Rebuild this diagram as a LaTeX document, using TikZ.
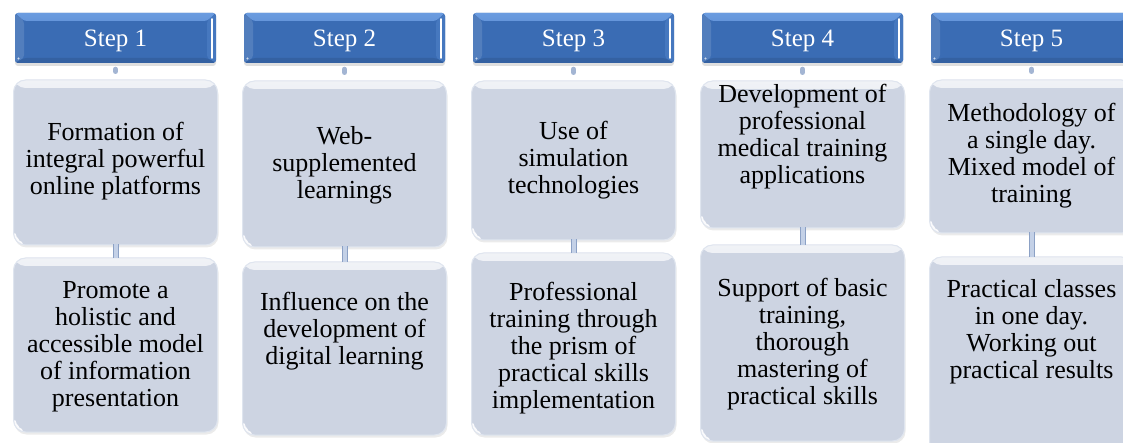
\documentclass[tikz,border=0pt]{standalone}
\usepackage{fontspec}
\setmainfont{Liberation Serif}
\usetikzlibrary{shadows}

\definecolor{hblue}{HTML}{3A6CB4}
\definecolor{htop}{HTML}{6B9CE0}
\definecolor{bfill}{HTML}{CDD4E2}
\definecolor{brim}{HTML}{DFE5EF}
\definecolor{stemline}{HTML}{8CA1C5}
\definecolor{stemfill}{HTML}{C4D1E7}
\definecolor{knobcol}{HTML}{A3B5D3}

\tikzset{
  % blue bevelled step header
  headbox/.style={rectangle, rounded corners=3pt, minimum width=201pt,
    minimum height=50pt, inner sep=0pt, fill=hblue, text=white,
    text depth=0pt, font=\fontsize{25}{27}\selectfont,
    drop shadow={shadow xshift=0pt, shadow yshift=-3pt, opacity=0.25},
    path picture={
      % top bevel
      \shade[top color=htop, bottom color=hblue!85!htop]
        (path picture bounding box.north west) -- (path picture bounding box.north east)
        -- ([shift={(-9pt,-8pt)}]path picture bounding box.north east)
        -- ([shift={(9pt,-8pt)}]path picture bounding box.north west) -- cycle;
      % left bevel
      \fill[hblue!88!white] (path picture bounding box.north west)
        -- ([shift={(9pt,-8pt)}]path picture bounding box.north west)
        -- ([shift={(9pt,5pt)}]path picture bounding box.south west)
        -- (path picture bounding box.south west) -- cycle;
      % right bevel
      \fill[hblue!75!htop] (path picture bounding box.north east)
        -- ([shift={(-9pt,-8pt)}]path picture bounding box.north east)
        -- ([shift={(-9pt,5pt)}]path picture bounding box.south east)
        -- (path picture bounding box.south east) -- cycle;
      % bottom bevel
      \fill[hblue!90!black] (path picture bounding box.south west)
        -- ([shift={(9pt,5pt)}]path picture bounding box.south west)
        -- ([shift={(-9pt,5pt)}]path picture bounding box.south east)
        -- (path picture bounding box.south east) -- cycle;
      % highlight along the right edge
      \draw[white, line width=1.6pt, line cap=round]
        ([shift={(-4pt,-6pt)}]path picture bounding box.north east)
        -- ([shift={(-4pt,5pt)}]path picture bounding box.south east);
      \fill[white!75!hblue] ([shift={(3.5pt,4.5pt)}]path picture bounding box.south west) circle (1.2pt);
    }},
  % light content box
  bodybox/.style={rectangle, rounded corners=12pt, minimum width=204pt,
    inner sep=0pt, fill=bfill, draw=brim, line width=1pt,
    drop shadow={shadow xshift=1pt, shadow yshift=-2.5pt, opacity=0.16},
    path picture={
      \shade[top color=white!70!bfill, bottom color=bfill]
        (path picture bounding box.north west) rectangle
        ([yshift=-8pt]path picture bounding box.north east);
      % glare on the lower left corner
      \fill[white, opacity=0.9] ([xshift=16pt]path picture bounding box.south west)
        .. controls ([shift={(7pt,4pt)}]path picture bounding box.south west)
        and ([shift={(3pt,9pt)}]path picture bounding box.south west)
        .. ([shift={(0.5pt,19pt)}]path picture bounding box.south west)
        -- (path picture bounding box.south west) -- cycle;
    }},
  bodytext/.style={align=center, inner sep=0pt, text=black,
    font=\fontsize{26}{27}\selectfont},
  knob/.style={draw=knobcol, line width=5pt, line cap=round},
  stem/.style={draw=stemline, line width=1pt, double=stemfill, double distance=4pt}
}

\begin{document}
\begin{tikzpicture}[x=1pt, y=-1pt]
\useasboundingbox (0,0) rectangle (1123,443);
\clip (0,0) rectangle (1123,443);

% step headers
\node[headbox] (h1) at (115.5,38) {Step 1};
\node[headbox] (h2) at (344.5,38) {Step 2};
\node[headbox] (h3) at (573.5,38) {Step 3};
\node[headbox] (h4) at (802.5,38) {Step 4};
\node[headbox] (h5) at (1031.5,38) {Step 5};

% upper boxes
\node[bodybox, minimum height=165pt] (a1) at (115.5,162.5) {};
\node[bodybox, minimum height=166pt] (a2) at (344.5,164) {};
\node[bodybox, minimum height=159pt] (a3) at (573.5,160.5) {};
\node[bodybox, minimum height=147pt] (a4) at (802.5,154.5) {};
\node[bodybox, minimum height=153pt] (a5) at (1031.5,156.5) {};

% lower boxes
\node[bodybox, minimum height=174pt] (b1) at (115.5,345) {};
\node[bodybox, minimum height=173pt] (b2) at (344.5,348.5) {};
\node[bodybox, minimum height=182pt] (b3) at (573.5,344) {};
\node[bodybox, minimum height=196pt] (b4) at (802.5,343) {};
\node[bodybox, minimum height=198pt] (b5) at (1031.5,356) {};

% texts of the upper boxes
\node[bodytext] (ta1) at (115.5,161) {Formation of\\integral powerful\\online platforms};
\node[bodytext] (ta2) at (344.5,165) {Web-\\supplemented\\learnings};
\node[bodytext] (ta3) at (573.5,160) {Use of\\simulation\\technologies};
\node[bodytext] (ta4) at (802.5,137) {Development of\\professional\\medical training\\applications};
\node[bodytext] (ta5) at (1031.5,156) {Methodology of\\a single day.\\Mixed model of\\training};

% texts of the lower boxes
\node[bodytext] (tb1) at (115.5,347) {Promote a\\holistic and\\accessible model\\of information\\presentation};
\node[bodytext] (tb2) at (344.5,331) {Influence on the\\development of\\digital learning};
\node[bodytext] (tb3) at (573.5,348) {Professional\\training through\\the prism of\\practical skills\\implementation};
\node[bodytext] (tb4) at (802.5,344) {Support of basic\\training,\\thorough\\mastering of\\practical skills};
\node[bodytext] (tb5) at (1031.5,332) {Practical classes\\in one day.\\Working out\\practical results};

% knobs under the headers
\foreach \i in {1,...,5}{
  \draw[knob] ([yshift=-6pt]h\i.south) -- ([yshift=8pt]a\i.north);
}
% stems between upper and lower boxes
\foreach \i in {1,...,5}{
  \draw[stem] ([yshift=1pt]a\i.south) -- ([yshift=-1pt]b\i.north);
}
\end{tikzpicture}
\end{document}
